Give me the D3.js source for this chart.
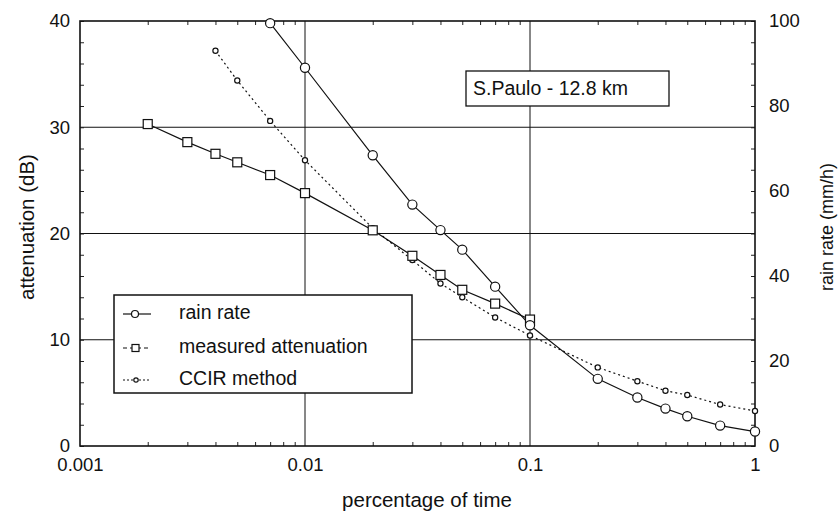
<!DOCTYPE html>
<html>
<head>
<meta charset="utf-8">
<script src="https://cdn.jsdelivr.net/npm/d3@7"></script>
<style>
  body { margin: 0; background: #fff; }
  svg { display: block; font-family: "Liberation Sans", Arial, sans-serif; }
</style>
</head>
<body>
<div id="chart"></div>
<script>
// data
const rainX = [0.007, 0.01, 0.02, 0.03, 0.04, 0.05, 0.07, 0.1, 0.2, 0.3, 0.4, 0.5, 0.7, 1];
const rainRate = [99.5, 89, 68.4, 56.8, 50.8, 46.2, 37.5, 28.4, 15.8, 11.4, 8.8, 7.0, 4.8, 3.4];

const measX = [0.002, 0.003, 0.004, 0.005, 0.007, 0.01, 0.02, 0.03, 0.04, 0.05, 0.07, 0.1];
const measAtt = [30.3, 28.6, 27.5, 26.7, 25.5, 23.8, 20.3, 17.9, 16.1, 14.7, 13.4, 11.9];

const ccirX = [0.004, 0.005, 0.007, 0.01, 0.02, 0.03, 0.04, 0.05, 0.07, 0.1, 0.2, 0.3, 0.4, 0.5, 0.7, 1];
const ccirAtt = [37.2, 34.4, 30.6, 26.9, 20.5, 17.5, 15.3, 14.0, 12.1, 10.4, 7.4, 6.1, 5.2, 4.8, 3.9, 3.3];

const xTicks = [0.001, 0.01, 0.1, 1];
const xTickLabels = ["0.001", "0.01", "0.1", "1"];
const leftTicks = [0, 10, 20, 30, 40];
const rightTicks = [0, 20, 40, 60, 80, 100];
const legendLabels = ["rain rate", "measured attenuation", "CCIR method"];

const W = 839, H = 517;
const M = { top: 21, right: 84, bottom: 71, left: 80 };
const iw = W - M.left - M.right, ih = H - M.top - M.bottom;

const svg = d3.select("#chart").append("svg").attr("width", W).attr("height", H);
const g = svg.append("g").attr("transform", `translate(${M.left},${M.top})`);

const x = d3.scaleLog().domain([0.001, 1]).range([0, iw]);
const yL = d3.scaleLinear().domain([0, 40]).range([ih, 0]);
const yR = d3.scaleLinear().domain([0, 100]).range([ih, 0]);

// grid lines
g.append("g").selectAll("line").data([10, 20, 30]).join("line")
  .attr("x1", 0).attr("x2", iw).attr("y1", d => yL(d)).attr("y2", d => yL(d))
  .attr("stroke", "#111").attr("stroke-width", 1.1);
g.append("g").selectAll("line").data([0.01, 0.1]).join("line")
  .attr("y1", 0).attr("y2", ih).attr("x1", d => x(d)).attr("x2", d => x(d))
  .attr("stroke", "#111").attr("stroke-width", 1);

// axes (inward ticks)
const fmt = d => xTickLabels[xTicks.indexOf(d)] || "";
const minorX = [];
[0.001, 0.01, 0.1].forEach(dec => { for (let k = 2; k <= 9; k++) minorX.push(dec * k); });

const xAxis = g.append("g").attr("transform", `translate(0,${ih})`)
  .call(d3.axisBottom(x).tickValues(xTicks).tickFormat(fmt).tickSize(0).tickPadding(12));
g.append("g").attr("transform", `translate(0,${ih})`)
  .call(d3.axisBottom(x).tickValues(minorX).tickFormat("").tickSize(-4))
  .select(".domain").remove();
g.append("g").call(d3.axisTop(x).tickValues(minorX).tickFormat("").tickSize(-4))
  .select(".domain").remove();

const leftAxis = g.append("g")
  .call(d3.axisLeft(yL).tickValues(leftTicks).tickSize(0).tickPadding(10));
g.append("g").call(d3.axisLeft(yL).ticks(16).tickFormat("").tickSize(-4))
  .select(".domain").remove();

const rightAxis = g.append("g").attr("transform", `translate(${iw},0)`)
  .call(d3.axisRight(yR).tickValues(rightTicks).tickSize(0).tickPadding(14));
g.append("g").attr("transform", `translate(${iw},0)`)
  .call(d3.axisRight(yR).ticks(20).tickFormat("").tickSize(-4))
  .select(".domain").remove();

g.selectAll(".tick line").attr("stroke", "#222");
g.selectAll(".tick text").attr("font-size", 18.5).attr("fill", "#111")
  .attr("font-family", "Liberation Sans, Arial, sans-serif");
xAxis.selectAll(".tick text").attr("dy", "0.72em");

// frame
g.append("rect").attr("width", iw).attr("height", ih)
  .attr("fill", "none").attr("stroke", "#111").attr("stroke-width", 1.6);
g.selectAll(".domain").attr("stroke", "none");

// series
const rainData = rainX.map((v, i) => [v, rainRate[i]]);
const measData = measX.map((v, i) => [v, measAtt[i]]);
const ccirData = ccirX.map((v, i) => [v, ccirAtt[i]]);

const lineR = d3.line().x(d => x(d[0])).y(d => yR(d[1]));
const lineL = d3.line().x(d => x(d[0])).y(d => yL(d[1]));

g.append("path").datum(ccirData).attr("d", lineL)
  .attr("fill", "none").attr("stroke", "#111").attr("stroke-width", 1.2).attr("stroke-dasharray", "2,3");
g.append("path").datum(measData).attr("d", lineL)
  .attr("fill", "none").attr("stroke", "#111").attr("stroke-width", 1.2);
g.append("path").datum(rainData).attr("d", lineR)
  .attr("fill", "none").attr("stroke", "#111").attr("stroke-width", 1.2);

g.append("g").selectAll("circle").data(ccirData).join("circle")
  .attr("cx", d => x(d[0])).attr("cy", d => yL(d[1])).attr("r", 2.6)
  .attr("fill", "#fff").attr("stroke", "#111").attr("stroke-width", 1.2);
g.append("g").selectAll("rect").data(measData).join("rect")
  .attr("x", d => x(d[0]) - 4.5).attr("y", d => yL(d[1]) - 4.5)
  .attr("width", 9).attr("height", 9)
  .attr("fill", "#fff").attr("stroke", "#111").attr("stroke-width", 1.2);
g.append("g").selectAll("circle").data(rainData).join("circle")
  .attr("cx", d => x(d[0])).attr("cy", d => yR(d[1])).attr("r", 4.6)
  .attr("fill", "#fff").attr("stroke", "#111").attr("stroke-width", 1.2);

// title box
svg.append("rect").attr("x", 466).attr("y", 71).attr("width", 203).attr("height", 35)
  .attr("fill", "#fff").attr("stroke", "#111").attr("stroke-width", 1.3);
svg.append("text").attr("x", 473).attr("y", 94.5).attr("font-size", 19.5).attr("fill", "#111")
  .text("S.Paulo - 12.8 km");

// legend
const lg = svg.append("g").attr("transform", "translate(114,295)");
lg.append("rect").attr("width", 298).attr("height", 98)
  .attr("fill", "#fff").attr("stroke", "#111").attr("stroke-width", 1.5);
const rowY = [19, 53, 85];
const dashes = [null, "4,3", "2,2"];
legendLabels.forEach((lab, i) => {
  const yy = rowY[i];
  lg.append("line").attr("x1", 9).attr("x2", 37).attr("y1", yy).attr("y2", yy)
    .attr("stroke", "#111").attr("stroke-width", 1.2).attr("stroke-dasharray", dashes[i]);
  if (i === 0) lg.append("circle").attr("cx", 21).attr("cy", yy).attr("r", 3.5)
    .attr("fill", "#fff").attr("stroke", "#111").attr("stroke-width", 1.2);
  if (i === 1) lg.append("rect").attr("x", 18).attr("y", yy - 3.5).attr("width", 7).attr("height", 7)
    .attr("fill", "#fff").attr("stroke", "#111").attr("stroke-width", 1.2);
  if (i === 2) lg.append("circle").attr("cx", 22).attr("cy", yy).attr("r", 2.2)
    .attr("fill", "#fff").attr("stroke", "#111").attr("stroke-width", 1.2);
  lg.append("text").attr("x", 65).attr("y", yy + 4.5).attr("font-size", 19.5).attr("fill", "#111").text(lab);
});

// axis titles
svg.append("text").attr("x", 427).attr("y", 507).attr("text-anchor", "middle")
  .attr("font-size", 20.5).attr("fill", "#111").text("percentage of time");
svg.append("text").attr("transform", "translate(34,227) rotate(-90)").attr("text-anchor", "middle")
  .attr("font-size", 20.5).attr("fill", "#111").text("attenuation (dB)");
svg.append("text").attr("transform", "translate(833,227) rotate(-90)").attr("text-anchor", "middle")
  .attr("font-size", 18).attr("fill", "#111").text("rain rate (mm/h)");
</script>
</body>
</html>
